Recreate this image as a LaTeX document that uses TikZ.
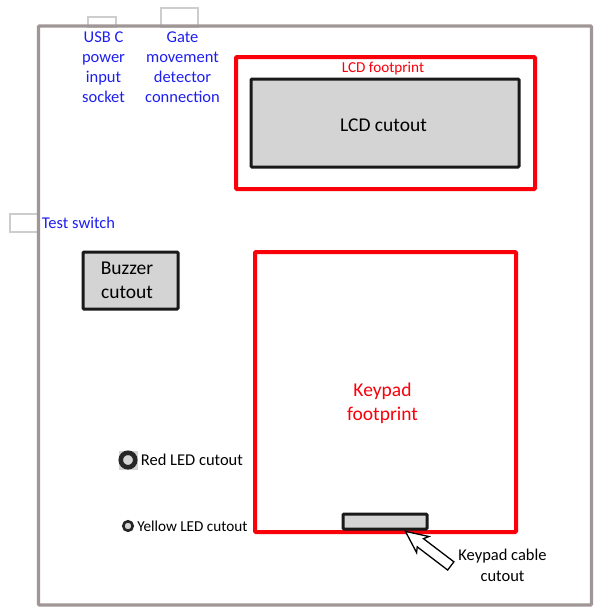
\documentclass[tikz,border=0pt]{standalone}
\usepackage{fontspec}
\setmainfont{Carlito}
\usetikzlibrary{shapes,arrows,positioning}
\definecolor{frameGray}{RGB}{160, 150, 150}
\definecolor{tabGray}{RGB}{205, 205, 205}
\definecolor{cutGray}{RGB}{212, 212, 212}
\definecolor{labelBlue}{RGB}{30, 30, 240}
\definecolor{footRed}{RGB}{250, 0, 10}
\tikzstyle{frame} = [rectangle, draw=frameGray, line width=3.2pt, rounded corners=1pt, inner sep=0pt]
\tikzstyle{tab} = [rectangle, draw=tabGray, line width=1.3pt, inner sep=0pt]
\tikzstyle{foot} = [rectangle, draw=footRed, line width=4pt, rounded corners=1pt, inner sep=0pt]
\tikzstyle{cutout} = [rectangle, draw=black!90, line width=3pt, rounded corners=1pt, fill=cutGray, inner sep=0pt]
\tikzstyle{redtext} = [text=footRed, align=center, inner sep=0pt, font=\fontsize{19.5}{24}\selectfont]
\tikzstyle{bluetext} = [text=labelBlue, align=center, inner sep=0pt, font=\fontsize{16.5}{20}\selectfont]
\tikzstyle{blacktext} = [text=black, align=center, inner sep=0pt, font=\fontsize{16.5}{21}\selectfont]
\tikzstyle{ledback} = [rectangle, fill=cutGray, inner sep=0pt]
\tikzstyle{led} = [circle, draw=black!85, fill=cutGray, inner sep=0pt]
\tikzstyle{cablearrow} = [single arrow, draw=black, line width=1.3pt, fill=white, inner sep=4.5pt, minimum height=57pt, minimum width=19pt, single arrow head extend=5pt, single arrow tip angle=50, single arrow head indent=3pt, rotate=142.7]

\begin{document}
\begin{tikzpicture}[x=1pt, y=-1pt]
\useasboundingbox (0,0) rectangle (600,613);

% connector tabs =============================
\node[tab, minimum width=28pt, minimum height=10pt] (usbTab) at (102,22) {};
\node[tab, minimum width=37pt, minimum height=19pt] (gateTab) at (179.5,17.5) {};
\node[tab, minimum width=28pt, minimum height=18pt] (switchTab) at (24,223) {};

% enclosure
\node[frame, minimum width=553pt, minimum height=579pt] (enclosure) at (315,315.5) {};

% LCD
\node[foot, minimum width=299pt, minimum height=132pt] (lcdFoot) at (385.5,123) {};
\node[cutout, minimum width=268pt, minimum height=88pt] (lcdCut) at (385,123) {};
\node[blacktext, font=\fontsize{19.5}{24}\selectfont] (lcdCutLabel) at (383.5,125.5) {LCD cutout};
\node[redtext, font=\fontsize{15.2}{18}\selectfont] (lcdLabel) at (383,68) {LCD footprint};

% keypad
\node[foot, minimum width=261pt, minimum height=280pt] (keyFoot) at (385.5,392) {};
\node[redtext] (keyLabel) at (382.5,403.5) {Keypad\\footprint};
\node[cutout, minimum width=84pt, minimum height=15pt] (cableCut) at (385,521.5) {};
\node[cablearrow] (cableArrow) at (432.5,552) {};
\node[blacktext] (cableLabel) at (502.5,565) {Keypad cable\\cutout};

% buzzer
\node[cutout, minimum width=95pt, minimum height=57pt] (buzzer) at (130.5,280.5) {};
\node[blacktext, font=\fontsize{19.5}{24}\selectfont] (buzzerLabel) at (127,280.5) {Buzzer\\cutout};

% LEDs
\node[ledback, minimum size=19pt] (redBack) at (128,460) {};
\node[led, line width=4.6pt, minimum size=14.5pt] (redLed) at (128,460) {};
\node[blacktext, right=3pt of redBack] (redLabel) {Red LED cutout};
\node[led, line width=2.6pt, minimum size=9.5pt] (yellowLed) at (128,526) {};
\node[blacktext, font=\fontsize{15.2}{18}\selectfont, right=3pt of yellowLed] (yellowLabel) {Yellow LED cutout};

% blue labels
\node[bluetext] (usbLabel) at (103.5,67.5) {USB C\\power\\input\\socket};
\node[bluetext] (gateLabel) at (182.5,67) {Gate\\movement\\detector\\connection};
\node[bluetext, right=3pt of switchTab] (switchLabel) {Test switch};

\end{tikzpicture}
\end{document}
